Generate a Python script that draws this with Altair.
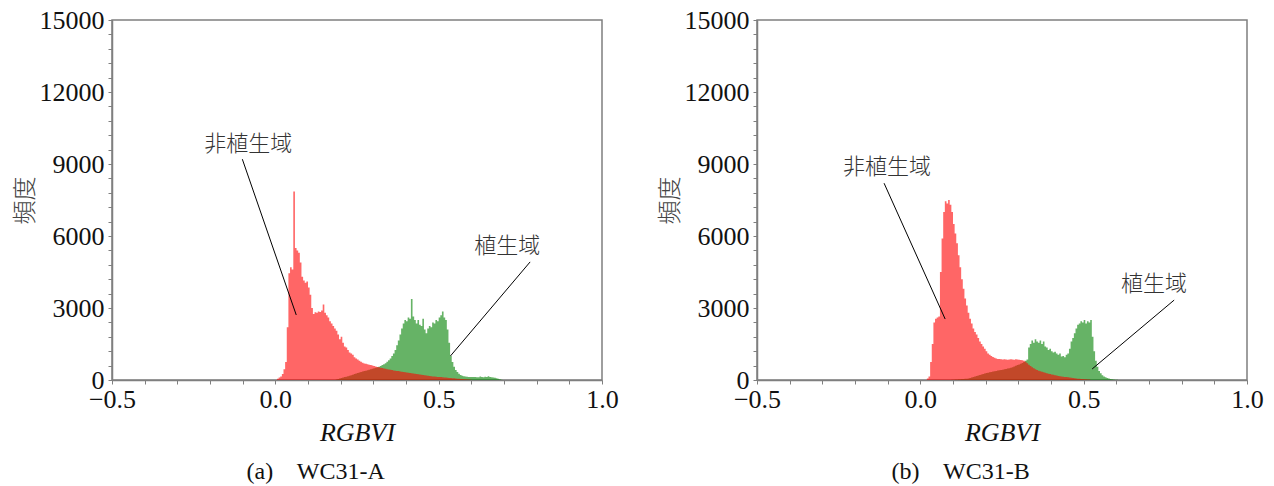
import altair as alt
import pandas as pd

# Histogram bin width on the RGBVI axis
BIN = 0.005

# --- WC31-A : counts per bin (bins start at the given value) ---
a_red_start = 0.005
a_red = [50, 100, 150, 250, 450, 750, 2200, 4450, 4700, 4600,
         7850, 5500, 5400, 5300, 4900, 4300, 4150, 4050, 4100, 3850,
         3550, 3000, 2750, 2820, 2800, 2850, 2830, 2900, 3150, 2800,
         2700, 2600, 2450, 2350, 2250, 2150, 2050, 1900, 1700, 1800,
         1550, 1400, 1350, 1250, 1150, 1100, 1050, 950, 900, 850,
         800, 760, 720, 690, 680, 660, 640, 620, 600, 580,
         560, 540, 530, 510, 500, 480, 470, 450, 440, 430,
         420, 400, 390, 380, 370, 350, 340, 330, 320, 310,
         300, 290, 280, 270, 260, 250, 240, 230, 220, 210,
         200, 190, 180, 170, 160, 150, 145, 140, 130, 125,
         120, 110, 105, 100, 90, 85, 80, 75, 70, 60,
         55, 50, 45, 40, 35, 30, 25, 20, 15]

a_green_start = 0.185
a_green = [20, 40, 60, 80, 100, 120, 140, 160, 180, 200,
           220, 245, 270, 290, 310, 330, 350, 370, 390, 410,
           430, 450, 470, 490, 510, 530, 550, 580, 620, 660,
           700, 760, 820, 900, 1000, 1100, 1250, 1450, 1650, 1900,
           2150, 2350, 2500, 2450, 2600, 2550, 3380, 2650, 2500, 2350,
           2500, 2300, 2250, 2550, 2100, 1950, 2150, 2250, 2200, 2400,
           2350, 2500, 2450, 2600, 2700, 2850, 2600, 2500, 2100, 1550,
           1000, 750, 550, 420, 330, 260, 210, 180, 160, 150,
           140, 130, 130, 125, 130, 120, 110, 115, 150, 120,
           110, 140, 120, 160, 130, 110, 100, 90, 70, 50,
           30, 15]

# --- WC31-B ---
b_red_start = 0.020
b_red = [60, 150, 750, 1500, 2400, 2550, 2600, 2650, 4500, 5900,
         7000, 7450, 7350, 7500, 7300, 7000, 6500, 6100, 5700, 5200,
         4700, 4200, 3800, 3400, 3100, 2800, 2550, 2350, 2150, 2000,
         1900, 1750, 1600, 1500, 1400, 1300, 1200, 1100, 1050, 1000,
         960, 930, 900, 880, 870, 860, 850, 860, 850, 840,
         850, 860, 850, 840, 860, 850, 840, 830, 820, 800,
         760, 700, 640, 580, 530, 490, 450, 420, 390, 360,
         340, 320, 300, 280, 260, 245, 230, 215, 200, 185,
         170, 160, 150, 140, 130, 120, 110, 100, 90, 80,
         70, 60, 55, 50, 45, 40, 35, 30, 25, 20]

b_green_start = 0.095
b_green = [10, 15, 20, 25, 30, 35, 40, 45, 50, 55,
           60, 80, 100, 130, 150, 170, 190, 210, 230, 250,
           270, 290, 305, 320, 335, 350, 365, 380, 395, 410,
           420, 430, 445, 460, 475, 490, 510, 530, 560, 590,
           620, 650, 680, 710, 750, 800, 850, 1350, 1500, 1650,
           1550, 1700, 1600, 1550, 1650, 1500, 1600, 1400, 1350, 1250,
           1300, 1200, 1150, 1180, 1100, 1050, 1100, 980, 1000, 950,
           1050, 1100, 1300, 1600, 1750, 1950, 2150, 2300, 2350, 2450,
           2400, 2500, 2350, 2450, 2400, 2500, 1800, 1200, 800, 550,
           380, 280, 200, 150, 110, 80, 60, 45, 30, 20,
           15, 10]

# Callout labels (text, x, y) and leader lines (x0, y0, x1, y1)
a_notes = [("非植生域", -0.083, 9830), ("植生域", 0.71, 5580)]
a_leaders = [(-0.101, 9200, 0.064, 2710), (0.78, 4920, 0.536, 1000)]
b_notes = [("非植生域", -0.102, 8870), ("植生域", 0.715, 4000)]
b_leaders = [(-0.111, 8200, 0.076, 2540), (0.777, 3330, 0.526, 460)]

# Panel captions (non-breaking spaces keep the gap after the letter)
GAP = "\u00a0\u00a0\u00a0 "
captions = ["(a)" + GAP + "WC31-A", "(b)" + GAP + "WC31-B"]

x_ticks = [round(-0.5 + 0.1 * i, 1) for i in range(16)]
y_ticks = list(range(0, 15001, 600))

SERIF = "Liberation Serif"
CJK = "Noto Sans CJK JP"
FRAME = "#7f7f7f"


def step_frame(start, counts):
    edges = [round(start + i * BIN, 4) for i in range(len(counts) + 1)]
    return pd.DataFrame({"v": edges, "n": list(counts) + [0]})


def panel(red_start, red, green_start, green, notes, leaders, caption):
    x = alt.X("v:Q",
              scale=alt.Scale(domain=[-0.5, 1.0], nice=False, zero=False),
              axis=alt.Axis(values=x_ticks, title="RGBVI",
                            labelExpr="abs(datum.value * 2 - round(datum.value * 2)) < 1e-6 ? format(datum.value, '.1f') : ''",
                            labelFlush=False, labelOverlap=False,
                            labelPadding=2, titlePadding=7,
                            titleFont=SERIF, titleFontStyle="italic"))
    y = alt.Y("n:Q",
              scale=alt.Scale(domain=[0, 15000], nice=False),
              axis=alt.Axis(values=y_ticks, title="頻度",
                            labelExpr="datum.value % 3000 === 0 ? format(datum.value, 'd') : ''",
                            labelOverlap=False, labelPadding=4, titlePadding=2,
                            titleFont=CJK, titleFontSize=24, titleFontWeight=300,
                            titleColor="#444"))

    green_area = alt.Chart(step_frame(green_start, green)).mark_area(
        interpolate="step-after", color="#008000", opacity=0.6).encode(x=x, y=y)
    red_area = alt.Chart(step_frame(red_start, red)).mark_area(
        interpolate="step-after", color="#ff0000", opacity=0.6).encode(x=x, y=y)

    lead_df = pd.DataFrame(leaders, columns=["v", "n", "v2", "n2"])
    lead = alt.Chart(lead_df).mark_rule(color="black", strokeWidth=1).encode(
        x=x, y=y, x2="v2:Q", y2="n2:Q")

    note_df = pd.DataFrame(notes, columns=["t", "v", "n"])
    text = alt.Chart(note_df).mark_text(
        font=CJK, fontSize=22, fontWeight=300, color="#333",
        align="center", baseline="middle").encode(x=x, y=y, text="t:N")

    return alt.layer(green_area, red_area, lead, text).properties(
        width=490, height=360,
        title=alt.TitleParams(caption, orient="bottom", anchor="middle",
                              frame="bounds", font=SERIF, fontSize=24,
                              fontWeight="normal", color="#111", offset=15))


left = panel(a_red_start, a_red, a_green_start, a_green,
             a_notes, a_leaders, captions[0])
right = panel(b_red_start, b_red, b_green_start, b_green,
              b_notes, b_leaders, captions[1])

chart = alt.hconcat(left, right, spacing=38).properties(
    padding={"left": 12, "top": 6, "right": 5, "bottom": 5}
).configure_view(
    stroke=FRAME, strokeWidth=1.5
).configure_axis(
    grid=False, domainColor=FRAME, domainWidth=1.5,
    tickColor=FRAME, tickWidth=1, tickSize=4,
    labelFont=SERIF, labelFontSize=26, labelColor="#111",
    titleFontSize=26, titleFontWeight="normal", titleColor="#111"
)

chart.save("out.html", embed_options={"renderer": "svg", "actions": False})
